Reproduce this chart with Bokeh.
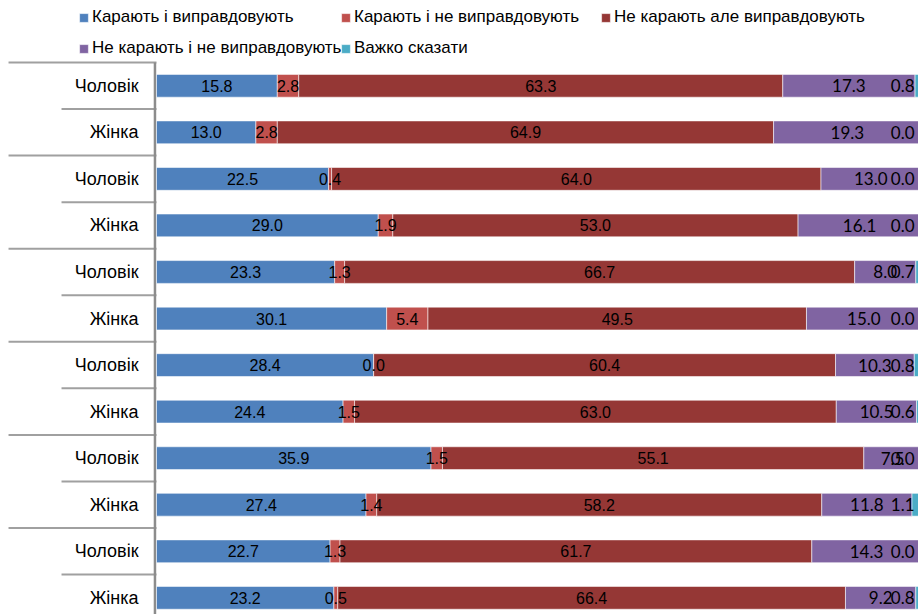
from bokeh.plotting import figure
from bokeh.models import ColumnDataSource, Range1d, Legend, LegendItem
from bokeh.core.properties import value
from bokeh.embed import file_html
from bokeh.resources import INLINE

# ---------------- data ----------------
categories = ["Чоловік", "Жінка"] * 6
series_names = ["Карають і виправдовують", "Карають і не виправдовують",
                "Не карають але виправдовують", "Не карають і не виправдовують",
                "Важко сказати"]
s_punish_justify = [15.8, 13.0, 22.5, 29.0, 23.3, 30.1, 28.4, 24.4, 35.9, 27.4, 22.7, 23.2]
s_punish_nojustify = [2.8, 2.8, 0.4, 1.9, 1.3, 5.4, 0.0, 1.5, 1.5, 1.4, 1.3, 0.5]
s_nopunish_justify = [63.3, 64.9, 64.0, 53.0, 66.7, 49.5, 60.4, 63.0, 55.1, 58.2, 61.7, 66.4]
s_nopunish_nojustify = [17.3, 19.3, 13.0, 16.1, 8.0, 15.0, 10.3, 10.5, 7.5, 11.8, 14.3, 9.2]
s_hard = [0.8, 0.0, 0.0, 0.0, 0.7, 0.0, 0.8, 0.6, 0.0, 1.1, 0.0, 0.8]
series = [s_punish_justify, s_punish_nojustify, s_nopunish_justify, s_nopunish_nojustify, s_hard]
colors = ["#4F81BD", "#C0504D", "#953735", "#8064A2", "#4BACC6"]

# ---------------- layout constants ----------------
X0, X1 = -20.4, 99.65
Y_BOTTOM, Y_TOP = 11.858, -1.332
n = len(categories)
rows = [i + 0.5 for i in range(n)]

p = figure(width=918, height=614, x_range=Range1d(X0, X1), y_range=Range1d(Y_BOTTOM, Y_TOP),
           x_axis_location=None, y_axis_location=None, toolbar_location=None,
           output_backend="svg", min_border=0, outline_line_color=None)
p.grid.visible = False
p.background_fill_color = "white"

# left category area: separators and axis line
long_b = [b for b in range(0, n + 1, 2)]
short_b = [b for b in range(1, n + 1, 2)]
p.segment(x0=[-19.35] * len(long_b), x1=[0] * len(long_b), y0=long_b, y1=long_b,
          line_color="#A0A0A0", line_width=2)
p.segment(x0=[-12.42] * len(short_b), x1=[0] * len(short_b), y0=short_b, y1=short_b,
          line_color="#A0A0A0", line_width=2)
p.segment(x0=[-0.2], x1=[-0.2], y0=[0], y1=[n], line_color="#8C8C8C", line_width=2.5)

p.text(x=[-2.35] * n, y=rows, text=categories, text_align="right", text_baseline="middle",
       text_font=value("Liberation Sans"), text_font_size="18px", text_color="#000000")

# bars
renderers = []
cum = [0.0] * n
label_xs = []
for k, vals in enumerate(series):
    left = cum[:]
    right = [c + v for c, v in zip(cum, vals)]
    src = ColumnDataSource(dict(y=rows, left=left, right=right))
    r = p.hbar(y="y", left="left", right="right", height=0.49, source=src,
               fill_color=colors[k], line_color="white", line_alpha=0.55, line_width=1)
    renderers.append(r)
    label_xs.append([(l + rr) / 2 for l, rr in zip(left, right)])
    cum = right

# data labels
for k, vals in enumerate(series):
    txt = [f"{v:.1f}" for v in vals]
    if k < 3:
        p.text(x=label_xs[k], y=rows, text=txt, text_align="center", text_baseline="middle",
               text_font=value("Liberation Sans"), text_font_size="16px", text_color="#000000")
    elif k == 3:
        p.text(x=label_xs[k], y=rows, text=txt, text_align="center", text_baseline="middle",
               text_font=value("Lato"), text_font_size="17px", text_color="#000000")
    else:
        p.text(x=[X1] * n, y=rows, text=txt, text_align="right", text_baseline="middle",
               x_offset=-4, text_font=value("Lato"), text_font_size="17px", text_color="#000000")

# legends (one per item, placed like the original)
legend_pos = [(78, 587), (340, 587), (600, 587), (78, 556), (340, 556)]
for k in range(5):
    lg = Legend(items=[LegendItem(label=series_names[k], renderers=[renderers[k]])],
                location=legend_pos[k], orientation="horizontal",
                padding=0, margin=0, spacing=0, border_line_alpha=0, background_fill_alpha=0,
                glyph_width=11, glyph_height=11, label_standoff=3, label_height=16,
                label_text_font="Liberation Sans", label_text_font_size="17px",
                label_text_color="#000000")
    p.add_layout(lg)

open("out.html", "w").write(file_html(p, INLINE))
